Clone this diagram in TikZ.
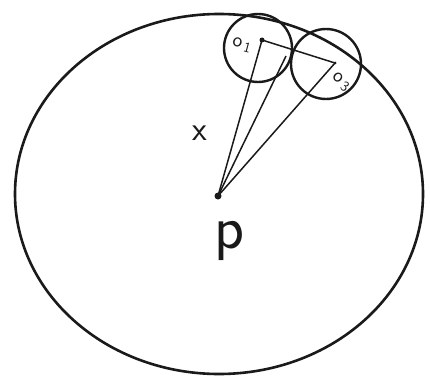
\documentclass[tikz,border=0pt]{standalone}
\usepackage{tikz}
\usetikzlibrary{positioning,calc}
\definecolor{ink}{HTML}{1A1A1A}
\tikzset{
  rim/.style={draw=ink,line width=2.6pt},
  ring/.style={draw=ink,line width=2.4pt},
  ray/.style={draw=ink,line width=1.5pt},
  pt/.style={circle,fill=ink,inner sep=0pt,minimum size=5pt},
  lbl/.style={text=ink,font=\sffamily,inner sep=0pt}
}
\begin{document}
\begin{tikzpicture}[x=1pt,y=-1pt]
  \useasboundingbox (0,0) rectangle (430,385);
  % outer boundary
  \draw[rim] (219,194) ellipse [x radius=204,y radius=180];
  % the two small balls
  \draw[ring] (258,48) circle [radius=34];
  \draw[ring] (326,64) circle [radius=35];
  \node[pt] (o1) at (262,40) {};
  \node[pt,minimum size=3pt] (o3) at (335,63) {};
  \coordinate (cut) at (286,56);
  \node[pt,minimum size=7pt] (p) at (218,196) {};
  % segments from p
  \draw[ray] (p.center) -- (o1.center);
  \draw[ray] (p.center) -- (cut);
  \draw[ray] (p.center) -- (o3.center);
  \draw[ray] (o1.center) -- (o3.center);
  % labels
  \node[lbl,font=\fontsize{20}{20}\selectfont,rotate=-15] (lo1) at (242,45) {$\mathsf{o}_{\,\mathsf{1}}$};
  \node[lbl,font=\fontsize{20}{20}\selectfont,rotate=-35] (lo3) at (341,82) {$\mathsf{o}_{\,\mathsf{3}}$};
  \node[lbl,font=\sffamily\fontsize{34}{34}\selectfont] (lx) at (200,133) {x};
  \node[lbl,font=\sffamily\fontsize{62}{62}\selectfont,anchor=base] (lp) at (229,248) {p};
\end{tikzpicture}
\end{document}
